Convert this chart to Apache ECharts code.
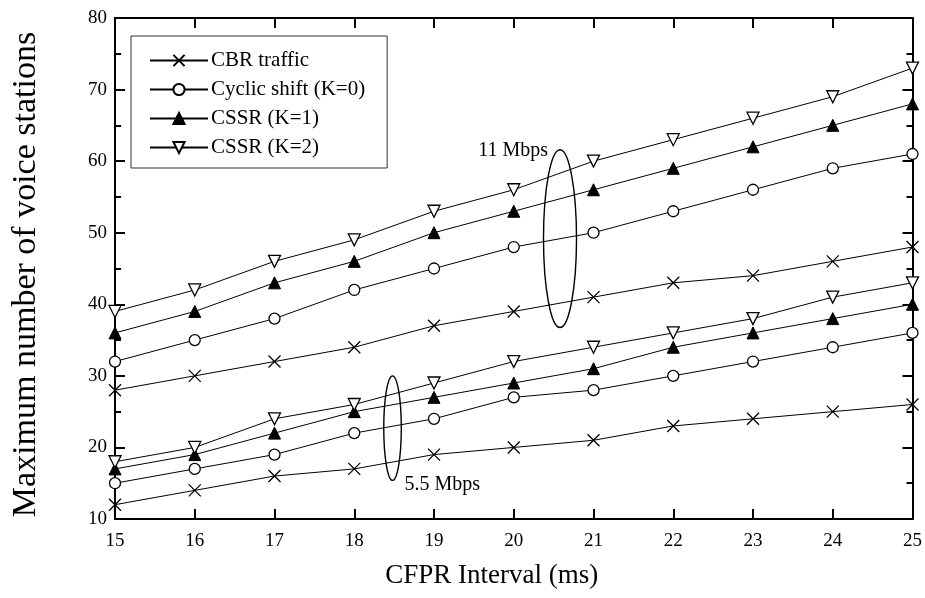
<!DOCTYPE html>
<html>
<head>
    <meta charset="UTF-8">
    <title>CFPR interval vs voice stations</title>
    <style>
        html, body { margin: 0; padding: 0; background: #fff; }
        #chart { width: 925px; height: 598px; }
    </style>
</head>
<body>
    <div id="chart"></div>
    <script src="https://cdn.jsdelivr.net/npm/echarts@6/dist/echarts.min.js"></script>
    <script type="text/javascript">
        // CFPR interval (ms)
        var intervals = [15, 16, 17, 18, 19, 20, 21, 22, 23, 24, 25];

        // 11 Mbps
        var cbr11    = [28, 30, 32, 34, 37, 39, 41, 43, 44, 46, 48];
        var cyclic11 = [32, 35, 38, 42, 45, 48, 50, 53, 56, 59, 61];
        var cssr1_11 = [36, 39, 43, 46, 50, 53, 56, 59, 62, 65, 68];
        var cssr2_11 = [39, 42, 46, 49, 53, 56, 60, 63, 66, 69, 73];

        // 5.5 Mbps
        var cbr55    = [12, 14, 16, 17, 19, 20, 21, 23, 24, 25, 26];
        var cyclic55 = [15, 17, 19, 22, 24, 27, 28, 30, 32, 34, 36];
        var cssr1_55 = [17, 19, 22, 25, 27, 29, 31, 34, 36, 38, 40];
        var cssr2_55 = [18, 20, 24, 26, 29, 32, 34, 36, 38, 41, 43];

        var seriesNames = ['CBR traffic', 'Cyclic shift (K=0)', 'CSSR (K=1)', 'CSSR (K=2)'];

        // ellipses grouping the two rates: label, x, y range (data units), half width (x units)
        var groupLabels = ['11 Mbps', '5.5 Mbps'];
        var groupX      = [20.58, 18.48];
        var groupYLow   = [36.75, 15.4];
        var groupYHigh  = [61.6, 30.0];
        var groupHalfW  = [0.207, 0.11];

        var font = "'Liberation Serif', 'Times New Roman', serif";
        var crossPath = 'path://M0,0L10,10M10,0L0,10';

        function pairs(ys) {
            return intervals.map(function (x, i) { return [x, ys[i]]; });
        }

        var styles = [
            { symbol: crossPath, symbolSize: 12, symbolRotate: 0, itemStyle: { color: 'none', borderColor: '#000', borderWidth: 1.3 } },
            { symbol: 'circle', symbolSize: 11, symbolRotate: 0, itemStyle: { color: '#fff', borderColor: '#000', borderWidth: 1.3 } },
            { symbol: 'triangle', symbolSize: 12, symbolRotate: 0, itemStyle: { color: '#000', borderColor: '#000', borderWidth: 1 } },
            { symbol: 'triangle', symbolSize: 12, symbolRotate: 180, itemStyle: { color: '#fff', borderColor: '#000', borderWidth: 1.3 } }
        ];

        function lineSeries(idx, ys) {
            var s = styles[idx];
            return {
                name: seriesNames[idx],
                type: 'line',
                data: pairs(ys),
                symbol: s.symbol,
                symbolSize: s.symbolSize,
                symbolRotate: s.symbolRotate,
                showAllSymbol: true,
                itemStyle: s.itemStyle,
                lineStyle: { color: '#000', width: 1 },
                emphasis: { disabled: true },
                animation: false,
                z: 3
            };
        }

        var ellipseData = groupLabels.map(function (l, i) {
            return [groupX[i], groupYLow[i], groupYHigh[i], groupHalfW[i]];
        });

        var chart = echarts.init(document.getElementById('chart'));
        var option = {
            animation: false,
            textStyle: { fontFamily: font, color: '#000' },
            grid: { left: 115, right: 12, top: 18, bottom: 79 },
            legend: {
                data: seriesNames,
                orient: 'vertical',
                left: 131,
                top: 36,
                padding: [14, 22, 10, 18],
                itemWidth: 58,
                itemHeight: 14,
                itemGap: 8,
                borderColor: '#333',
                borderWidth: 1,
                textStyle: { fontFamily: font, fontSize: 21, color: '#000', padding: [0, 0, 0, -2] },
                inactiveColor: '#000'
            },
            xAxis: [{
                type: 'value',
                min: 15, max: 25, interval: 1,
                name: 'CFPR Interval (ms)',
                nameLocation: 'middle',
                nameGap: 43,
                nameTextStyle: { fontFamily: font, fontSize: 27, color: '#000', padding: [0, 44, 0, 0] },
                axisLine: { lineStyle: { color: '#000', width: 2 } },
                axisTick: { inside: true, length: 10, lineStyle: { color: '#000', width: 2 } },
                axisLabel: { fontFamily: font, fontSize: 19, color: '#000', margin: 13 },
                splitLine: { show: false }
            }, {
                type: 'value',
                position: 'top',
                min: 15, max: 25, interval: 1,
                axisLine: { lineStyle: { color: '#000', width: 2 } },
                axisTick: { inside: true, length: 10, lineStyle: { color: '#000', width: 2 } },
                axisLabel: { show: false },
                splitLine: { show: false }
            }],
            yAxis: [{
                type: 'value',
                min: 10, max: 80, interval: 10,
                name: 'Maximum number of voice stations',
                nameLocation: 'middle',
                nameGap: 72,
                nameTextStyle: { fontFamily: font, fontSize: 34, color: '#000', padding: [0, 12, 0, 0] },
                axisLine: { lineStyle: { color: '#000', width: 2 } },
                axisTick: { inside: true, length: 10, lineStyle: { color: '#000', width: 2 } },
                minorTick: { show: true, splitNumber: 2, length: 6, lineStyle: { color: '#000', width: 2 } },
                axisLabel: { fontFamily: font, fontSize: 19, color: '#000', margin: 8 },
                splitLine: { show: false },
                minorSplitLine: { show: false }
            }, {
                type: 'value',
                position: 'right',
                min: 10, max: 80, interval: 10,
                axisLine: { lineStyle: { color: '#000', width: 2 } },
                axisTick: { inside: true, length: 10, lineStyle: { color: '#000', width: 2 } },
                minorTick: { show: true, splitNumber: 2, length: 6, lineStyle: { color: '#000', width: 2 } },
                axisLabel: { show: false },
                splitLine: { show: false },
                minorSplitLine: { show: false }
            }],
            series: [
                lineSeries(0, cbr11),
                lineSeries(1, cyclic11),
                lineSeries(2, cssr1_11),
                lineSeries(3, cssr2_11),
                lineSeries(0, cbr55),
                lineSeries(1, cyclic55),
                lineSeries(2, cssr1_55),
                lineSeries(3, cssr2_55),
                {
                    type: 'custom',
                    name: 'groups',
                    data: ellipseData,
                    silent: true,
                    z: 4,
                    renderItem: function (params, api) {
                        var x = api.value(0);
                        var lo = api.value(1);
                        var hi = api.value(2);
                        var top = api.coord([x, hi]);
                        var bot = api.coord([x, lo]);
                        var rx = api.size([api.value(3), 0])[0];
                        var cx = top[0];
                        var cy = (top[1] + bot[1]) / 2;
                        var ry = (bot[1] - top[1]) / 2;
                        var first = params.dataIndex === 0;
                        return {
                            type: 'group',
                            children: [{
                                type: 'ellipse',
                                shape: { cx: cx, cy: cy, rx: rx, ry: ry },
                                style: { fill: 'none', stroke: '#000', lineWidth: 1.4 }
                            }, {
                                type: 'text',
                                style: {
                                    text: groupLabels[params.dataIndex],
                                    x: first ? cx - 12 : cx + 12,
                                    y: first ? top[1] + 1 : bot[1] + 4,
                                    align: first ? 'right' : 'left',
                                    verticalAlign: 'middle',
                                    font: '20px ' + font,
                                    fill: '#000'
                                }
                            }]
                        };
                    }
                }
            ]
        };
        chart.setOption(option);
    </script>
</body>
</html>
